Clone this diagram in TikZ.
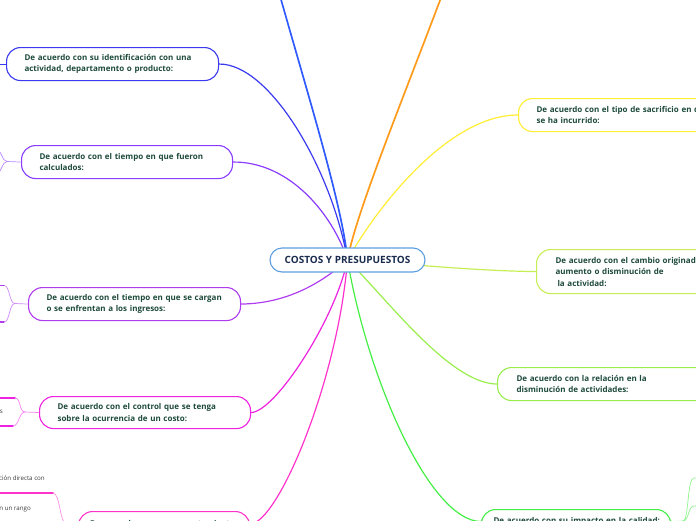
\documentclass[tikz,border=0pt]{standalone}
\usepackage{fontspec}
\setmainfont{Open Sans}
\usepackage{xcolor}
\usepackage{tikz}
\usetikzlibrary{backgrounds}

\definecolor{txtgreen}{HTML}{1D4A3A}
\definecolor{txtnavy}{HTML}{1B2D4F}
\definecolor{leafgray}{HTML}{3A3A3A}
\definecolor{rootblue}{HTML}{5B9FE0}
\definecolor{topblue}{HTML}{2F5BFF}
\definecolor{branchorange}{HTML}{FF9A1A}
\definecolor{identblue}{HTML}{3A3AF0}
\definecolor{calcpurple}{HTML}{8A3CFF}
\definecolor{ingrviolet}{HTML}{B03CF0}
\definecolor{ctrlmagenta}{HTML}{EE22E0}
\definecolor{comppink}{HTML}{FF33CC}
\definecolor{sacryellow}{HTML}{FFEE33}
\definecolor{cambolive}{HTML}{C8EE55}
\definecolor{relgreen}{HTML}{99EE4D}
\definecolor{calgreen}{HTML}{44EE44}

\begin{document}
\begin{tikzpicture}[x=1pt, y=-1pt, line cap=round, font=\bfseries\fontsize{8}{11.5}\selectfont]
    \tikzstyle{rootbox} = [draw=rootblue, fill=white, rectangle, rounded corners=12pt, line width=1.1pt, minimum width=155pt, minimum height=24pt, text=txtnavy, font=\bfseries\fontsize{10}{12}\selectfont]
    \tikzstyle{catbox} = [draw, fill=white, rectangle, rounded corners=14pt, line width=1.1pt, anchor=north west, align=left, inner xsep=18pt, inner ysep=2pt, minimum height=33pt, text=txtgreen]
    \tikzstyle{mainlink} = [line width=1.2pt]
    \tikzstyle{sublink} = [line width=0.7pt]
    \tikzstyle{stubline} = [line width=1.3pt]
    \tikzstyle{leaftext} = [inner sep=0pt, anchor=base east, text=leafgray, font=\mdseries\fontsize{6.2}{7.5}\selectfont]

    \useasboundingbox (0,0) rectangle (696,520);

    % central topic
    \node [rootbox] (root) at (347.5,260) {COSTOS Y PRESUPUESTOS};

    % left branches
    \node [catbox, draw=identblue, text width=176pt] (ident) at (6,47) {De acuerdo con su identificación con una\\actividad, departamento o producto:};
    \node [catbox, draw=calcpurple, text width=175pt] (calc) at (21,145) {De acuerdo con el tiempo en que fueron\\calculados:};
    \node [catbox, draw=ingrviolet, text width=176pt] (ingr) at (28,287) {De acuerdo con el tiempo en que se cargan\\o se enfrentan a los ingresos:};
    \node [catbox, draw=ctrlmagenta, text width=175pt, minimum height=32pt] (ctrl) at (39,396) {De acuerdo con el control que se tenga\\sobre la ocurrencia de un costo:};
    \node [catbox, draw=comppink, text width=148pt, inner xsep=11.5pt, minimum height=25pt] (comp) at (78,511) {De acuerdo con su comportamiento:};

    % right branches
    \node [catbox, draw=sacryellow, text width=176pt] (sacr) at (518,98) {De acuerdo con el tipo de sacrificio en que\\se ha incurrido:};
    \node [catbox, draw=cambolive, text width=190pt, inner xsep=19pt, minimum height=44pt] (camb) at (536,249) {De acuerdo con el cambio originado por un\\aumento o disminución de\\\hspace*{2pt}la actividad:};
    \node [catbox, draw=relgreen, text width=176pt, inner xsep=19pt] (rel) at (497,367) {De acuerdo con la relación en la\\disminución de actividades:};
    \node [catbox, draw=calgreen, text width=175pt, inner xsep=7pt, minimum height=24pt] (cal) at (481,509) {\hspace*{5pt}De acuerdo con su impacto en la calidad:};

    \coordinate (offtopleft) at (270,-40);
    \coordinate (offtopright) at (455,-40);

    \begin{scope}[on background layer]
        \draw [mainlink, topblue, line width=1.7pt] (root.center) .. controls (342,200) and (300,70) .. (offtopleft);
        \draw [mainlink, branchorange, line width=1.7pt] (root.center) .. controls (356,210) and (415,70) .. (offtopright);
        \draw [mainlink, identblue] (ident.east) .. controls (270,63.5) and (332,170) .. (root.center);
        \draw [mainlink, calcpurple] (calc.east) .. controls (290,161.5) and (333,215) .. (root.center);
        \draw [mainlink, ingrviolet] (ingr.east) .. controls (290,303.5) and (325,280) .. (root.center);
        \draw [mainlink, ctrlmagenta] (ctrl.east) .. controls (275,412) and (335,320) .. (root.center);
        \draw [mainlink, comppink] (comp.east) .. controls (278,523.5) and (338,380) .. (root.center);
        \draw [mainlink, sacryellow] (sacr.west) .. controls (450,114.5) and (378,205) .. (root.center);
        \draw [mainlink, cambolive] (camb.west) .. controls (480,271) and (420,265) .. (root.center);
        \draw [mainlink, relgreen] (rel.west) .. controls (450,383.5) and (388,300) .. (root.center);
        \draw [mainlink, calgreen] (cal.west) .. controls (430,521) and (368,380) .. (root.center);
    \end{scope}

    % sub-branches cut by the frame
    \draw [sublink, identblue, line width=1pt] (ident.west) -- ++(-16,0);

    \coordinate (calcfork) at (7,161.5);
    \draw [sublink, calcpurple!60] (calc.west) -- (calcfork);
    \draw [sublink, calcpurple!60] (calcfork) .. controls (2,161.5) and (2,150) .. (-6,146);
    \draw [sublink, calcpurple!60] (calcfork) .. controls (2,161.5) and (2,173) .. (-6,177);

    \coordinate (ingrfork) at (15,303.5);
    \draw [sublink, ingrviolet!60] (ingr.west) -- (ingrfork);
    \draw [sublink, ingrviolet!60] (ingrfork) .. controls (9,303.5) and (10,285.5) .. (4,285.5);
    \draw [sublink, ingrviolet!60] (ingrfork) .. controls (9,303.5) and (10,322) .. (4,322);
    \draw [stubline, ingrviolet] (4,285.5) -- ++(-14,0);
    \draw [stubline, ingrviolet] (4,322) -- ++(-14,0);

    \coordinate (ctrlfork) at (25,412);
    \draw [sublink, ctrlmagenta!55] (ctrl.west) -- (ctrlfork);
    \draw [sublink, ctrlmagenta!55] (ctrlfork) .. controls (19,412) and (21,398) .. (15,398);
    \draw [sublink, ctrlmagenta!55] (ctrlfork) .. controls (19,412) and (19,426) .. (13,426);
    \draw [stubline, ctrlmagenta] (15,398) -- ++(-25,0);
    \draw [stubline, ctrlmagenta] (13,426) -- ++(-23,0);
    \node [leaftext] (ctrlleaf) at (3,413) {s};

    \coordinate (compfork) at (66,523.5);
    \draw [sublink, comppink!55] (comp.west) -- (compfork);
    \draw [sublink, comppink!55] (compfork) .. controls (60,523.5) and (60,493) .. (53,493);
    \draw [stubline, comppink] (53,493) -- ++(-65,0);
    \node [leaftext] (compleafa) at (45,480) {ción directa con};
    \node [leaftext] (compleafb) at (31,510) {n un rango};

    \coordinate (calfork) at (683,521);
    \draw [sublink, calgreen!60] (cal.east) -- (calfork);
    \draw [sublink, calgreen!60] (calfork) .. controls (689,521) and (687,478) .. (694,478) -- ++(12,0);
    \draw [sublink, calgreen!60] (calfork) .. controls (689,521) and (688,506) .. (694,506) -- ++(12,0);
\end{tikzpicture}
\end{document}
